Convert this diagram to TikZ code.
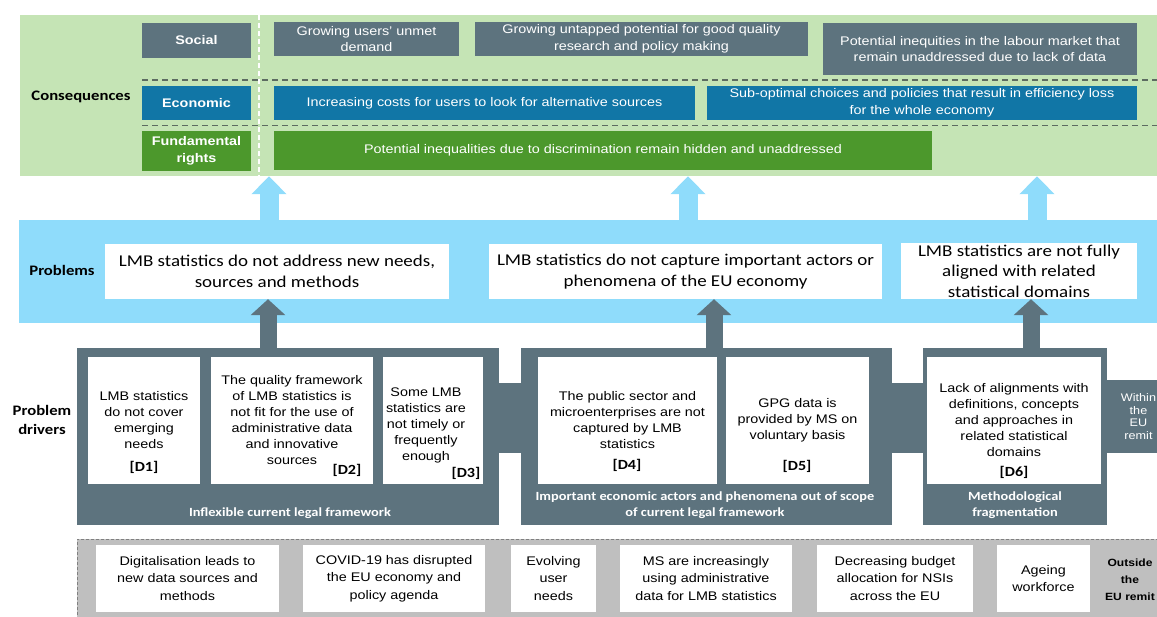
\documentclass[tikz,border=0pt]{standalone}
\usepackage{fontspec}
\setmainfont[FakeStretch=1.15]{Liberation Sans}
\newfontfamily\calfont[FakeStretch=1.15]{Carlito}
\usetikzlibrary{arrows.meta}
\usetikzlibrary{positioning}

\definecolor{slate}{HTML}{5D737E}
\definecolor{ecoblue}{HTML}{1176A6}
\definecolor{fundgreen}{HTML}{4C982C}
\definecolor{lightgreen}{HTML}{C5E4B5}
\definecolor{lightblue}{HTML}{8FDCFB}
\definecolor{extgray}{HTML}{BFBFBF}
\definecolor{dashgray}{HTML}{5C6B61}

\tikzset{
  rowlabel/.style={font=\calfont\bfseries\fontsize{14.5}{19}\selectfont, align=center, inner sep=0pt},
  tagbox/.style={fill=#1, text=white, font=\bfseries\fontsize{12.5}{17}\selectfont, align=center, inner sep=0pt, minimum width=109pt},
  conbox/.style={fill=#1, text=white, font=\fontsize{12.5}{16.5}\selectfont, align=center, inner sep=0pt},
  probbox/.style={fill=white, font=\calfont\fontsize{16.5}{20.5}\selectfont, align=center, inner sep=0pt},
  drvgroup/.style={fill=slate, inner sep=0pt, minimum height=177pt},
  drvbox/.style={fill=white, font=\fontsize{12.5}{16}\selectfont, align=center, inner sep=0pt, minimum height=127pt},
  dlabel/.style={font=\calfont\bfseries\fontsize{14}{16}\selectfont, inner sep=0pt},
  grpcaption/.style={text=white, font=\calfont\bfseries\fontsize{12.5}{16}\selectfont, align=center, inner sep=0pt},
  extbox/.style={fill=white, font=\fontsize{12.5}{17.5}\selectfont, align=center, inner sep=0pt, minimum height=67pt},
  lightarrow/.style={draw=lightblue, line width=19pt, -{Triangle[width=34pt,length=18pt]}},
  darkarrow/.style={draw=slate, line width=17pt, -{Triangle[width=34pt,length=16pt]}}
}

\begin{document}
\begin{tikzpicture}[x=1pt, y=-1pt]
    \useasboundingbox (0,0) rectangle (1157,616);

    \node[fill=lightgreen, inner sep=0pt, minimum width=1150pt, minimum height=161pt] (cons) at (595,95.5) {};
    \draw[dashgray, line width=1.8pt, dash pattern=on 6pt off 4pt] (142,80) -- (1170,80);
    \draw[dashgray, line width=1.8pt, dash pattern=on 6pt off 4pt] (142,125.5) -- (1170,125.5);
    \draw[white, line width=1.5pt, dash pattern=on 5pt off 3pt] (259,15) -- (259,176);
    \node[rowlabel] (conslab) at (81,97) {Consequences};

    \node[tagbox=slate, minimum height=35pt] (social) at (196.5,40.5) {Social};
    \node[tagbox=ecoblue, minimum height=34pt] (econ) at (196.5,103) {Economic};
    \node[tagbox=fundgreen, minimum height=40pt] (fund) at (196.5,151) {Fundamental\\rights};

    \node[conbox=slate, minimum width=185pt, minimum height=34pt] (soc1) at (366.5,39) {Growing users' unmet\\demand};
    \node[conbox=slate, minimum width=333pt, minimum height=34pt] (soc2) at (641.5,39) {Growing untapped potential for good quality\\research and policy making};
    \node[conbox=slate, minimum width=314pt, minimum height=52pt] (soc3) at (980,49) {Potential inequities in the labour market that\\remain unaddressed due to lack of data};
    \node[conbox=ecoblue, minimum width=421pt, minimum height=34pt] (eco1) at (484.5,103) {Increasing costs for users to look for alternative sources};
    \node[conbox=ecoblue, minimum width=430pt, minimum height=34pt] (eco2) at (922,103) {Sub-optimal choices and policies that result in efficiency loss\\for the whole economy};
    \node[conbox=fundgreen, minimum width=658pt, minimum height=39pt] (fund1) at (603,150.5) {Potential inequalities due to discrimination remain hidden and unaddressed};

    \node[fill=lightblue, inner sep=0pt, minimum width=1151pt, minimum height=103pt] (band) at (594.5,271.5) {};
    \node[rowlabel] (problab) at (62,270) {Problems};
    \node[probbox, minimum width=344pt, minimum height=55pt] (p1) at (277,271.5) {LMB statistics do not address new needs,\\sources and methods};
    \node[probbox, minimum width=393pt, minimum height=55pt] (p2) at (685.5,271.5) {LMB statistics do not capture important actors or\\phenomena of the EU economy};
    \node[probbox, minimum width=236pt, minimum height=56pt] (p3) at (1019,271) {LMB statistics are not fully\\aligned with related\\statistical domains};

    \foreach \xx in {269,688,1037}{
        \coordinate (lt) at (\xx,0);
        \draw[lightarrow] (band.north -| lt) -- (cons.south -| lt);
    }

    \node[rowlabel] (drvlab) at (42,420) {Problem\\drivers};
    \node[drvgroup, minimum width=422pt] (g1) at (288,436.5) {};
    \node[drvgroup, minimum width=371pt] (g2) at (706.5,436.5) {};
    \node[drvgroup, minimum width=184pt] (g3) at (1015,436.5) {};
    \fill[slate] ([yshift=53.5pt]g1.east) rectangle ([yshift=-16.5pt]g2.west);
    \fill[slate] ([yshift=53.5pt]g2.east) rectangle ([yshift=-16.5pt]g3.west);
    \node[fill=slate, text=white, font=\fontsize{11}{12.5}\selectfont, align=center, inner sep=0pt, minimum width=63pt, minimum height=73pt] (within) at (1138.5,416.5) {Within\\the\\EU\\remit};

    \node[drvbox, minimum width=112pt] (d1) at (144,420.5) {LMB statistics\\do not cover\\emerging\\needs};
    \node[drvbox, minimum width=162pt] (d2) at (292,420.5) {The quality framework\\of LMB statistics is\\not fit for the use of\\administrative data\\and innovative\\sources};
    \node[drvbox, minimum width=100pt] (d3) at (433,420.5) {};
    \node[font=\fontsize{12.5}{16}\selectfont, align=center, inner sep=0pt] (d3txt) at (426,425) {Some LMB\\statistics are\\not timely or\\frequently\\enough};
    \node[drvbox, minimum width=179pt] (d4) at (627.5,420.5) {The public sector and\\microenterprises are not\\captured by LMB\\statistics};
    \node[drvbox, minimum width=143pt] (d5) at (797.5,420.5) {GPG data is\\provided by MS on\\voluntary basis};
    \node[drvbox, minimum width=174pt] (d6) at (1014,420.5) {Lack of alignments with\\definitions, concepts\\and approaches in\\related statistical\\domains};

    \node[dlabel] (d1lab) at (144,467) {[D1]};
    \node[dlabel] (d2lab) at (347,470) {[D2]};
    \node[dlabel] (d3lab) at (466,473) {[D3]};
    \node[dlabel] (d4lab) at (627,465) {[D4]};
    \node[dlabel] (d5lab) at (797,466) {[D5]};
    \node[dlabel] (d6lab) at (1014,472) {[D6]};

    \node[grpcaption] (cap1) at (290,513) {Inflexible current legal framework};
    \node[grpcaption] (cap2) at (705,505) {Important economic actors and phenomena out of scope\\of current legal framework};
    \node[grpcaption] (cap3) at (1015,505) {Methodological\\fragmentation};

    \foreach \g/\p/\xx in {g1/p1/268, g2/p2/714, g3/p3/1031}{
        \coordinate (dt) at (\xx,0);
        \draw[darkarrow] (\g.north -| dt) -- (\p.south -| dt);
    }

    \node[fill=extgray, draw=gray, line width=1pt, dash pattern=on 3pt off 2pt, inner sep=0pt, minimum width=1093pt, minimum height=86pt] (ext) at (623.5,582) {};
    \node[extbox, minimum width=183pt] (b1) at (187.5,578.5) {Digitalisation leads to\\new data sources and\\methods};
    \node[extbox, minimum width=182pt] (b2) at (394,578.5) {COVID-19 has disrupted\\the EU economy and\\policy agenda};
    \node[extbox, minimum width=85pt] (b3) at (553.5,578.5) {Evolving\\user\\needs};
    \node[extbox, minimum width=172pt] (b4) at (706,578.5) {MS are increasingly\\using administrative\\data for LMB statistics};
    \node[extbox, minimum width=156pt] (b5) at (895,578.5) {Decreasing budget\\allocation for NSIs\\across the EU};
    \node[extbox, minimum width=93pt] (b6) at (1043.5,578.5) {Ageing\\workforce};
    \node[font=\bfseries\fontsize{10.5}{17}\selectfont, align=center, inner sep=0pt] (outlab) at (1130,580) {Outside\\the\\EU remit};
\end{tikzpicture}
\end{document}
